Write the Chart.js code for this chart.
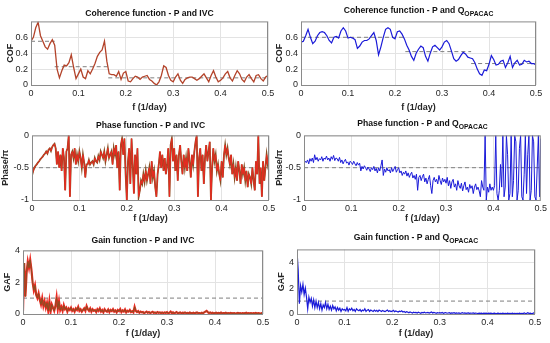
<!DOCTYPE html>
<html>
<head>
<meta charset="utf-8">
<script src="https://cdn.jsdelivr.net/npm/chart.js@4.4.0/dist/chart.umd.min.js"></script>
<style>
  body { margin: 0; background: #fff; width: 550px; height: 343px; position: relative; overflow: hidden;
         font-family: "Liberation Sans", Arial, sans-serif; }
  .panel { position: absolute; }
  .ttl { position: absolute; font-weight: bold; font-size: 8.6px; color: #111; white-space: nowrap;
         transform: translate(-50%, -50%); }
  .ttl sub { font-size: 6.8px; vertical-align: -3px; line-height: 0; }
</style>
</head>
<body>

<script>
// --- Data (f from 0 to 0.5, evenly spaced) ---
const freqTicks = [0, 0.1, 0.2, 0.3, 0.4, 0.5];
const cofTicks = [0, 0.2, 0.4, 0.6];
const phaseTicks = [-1, -0.5, 0];
const gafTicks = [0, 2, 4];

// Coherence, step 0.005
const cohIVC = [0.55,0.60,0.72,0.79,0.62,0.55,0.48,0.45,0.52,0.57,0.50,0.20,0.09,0.18,0.25,0.24,0.28,0.38,0.22,0.08,
  0.14,0.20,0.10,0.08,0.18,0.14,0.20,0.27,0.36,0.41,0.44,0.55,0.30,0.14,0.13,0.13,0.11,0.17,0.07,0.15,
  0.17,0.05,0.04,0.08,0.11,0.10,0.07,0.10,0.11,0.12,0.07,0.05,0.02,0.00,0.04,0.12,0.24,0.22,0.12,0.06,
  0.04,0.10,0.14,0.06,0.02,0.07,0.09,0.10,0.10,0.08,0.06,0.08,0.11,0.14,0.09,0.04,0.12,0.18,0.10,0.04,
  0.06,0.09,0.14,0.17,0.09,0.05,0.12,0.18,0.14,0.07,0.04,0.10,0.13,0.08,0.04,0.12,0.13,0.08,0.05,0.10,0.12];
const cohQ = [0.54,0.55,0.62,0.70,0.60,0.52,0.55,0.62,0.66,0.67,0.66,0.62,0.56,0.53,0.60,0.61,0.59,0.68,0.72,0.68,
  0.59,0.60,0.59,0.57,0.46,0.49,0.54,0.56,0.56,0.58,0.62,0.66,0.56,0.38,0.48,0.60,0.70,0.72,0.70,0.60,
  0.58,0.67,0.68,0.64,0.58,0.50,0.44,0.36,0.31,0.40,0.45,0.49,0.47,0.36,0.30,0.40,0.48,0.50,0.47,0.44,
  0.48,0.54,0.56,0.52,0.43,0.33,0.30,0.32,0.37,0.41,0.39,0.35,0.34,0.33,0.28,0.20,0.14,0.12,0.19,0.18,
  0.26,0.37,0.32,0.25,0.26,0.30,0.31,0.22,0.28,0.36,0.22,0.28,0.31,0.25,0.26,0.31,0.29,0.30,0.27,0.27,0.25];
const cohIVCBreaks = [0, 0.05, 0.163, 0.5];
const cohIVCLevels = [0.55, 0.23, 0.09];
const cohQBreaks = [0, 0.222, 0.362, 0.5];
const cohQLevels = [0.6, 0.42, 0.27];

// Phase / pi, step 0.0025
const phaseIVC = [-0.62,-0.55,-0.50,-0.47,-0.45,-0.42,-0.40,-0.37,-0.35,-0.33,-0.30,-0.28,-0.25,-0.28,-0.22,-0.20,-0.24,-0.18,-0.15,-0.13,
  -0.20,-0.45,-0.25,-0.50,-0.30,-0.55,-0.20,-0.35,-0.85,-0.25,-0.20,0.00,-0.95,-0.30,-0.25,-0.35,-0.20,-0.45,-0.30,-0.40,
  -0.25,-0.35,-0.50,-0.30,-0.42,-0.65,-0.45,-0.45,-0.38,-0.45,-0.42,-0.40,-0.45,-0.35,-0.40,-0.42,-0.32,-0.38,-0.25,-0.30,
  -0.35,-0.25,-0.40,-0.30,-0.20,-0.35,-0.30,-0.25,-0.45,-0.20,-0.30,-0.15,-0.50,-0.25,-0.85,-0.15,-0.05,-0.30,-0.05,-0.60,
  -1.00,-0.40,-0.20,-0.75,-0.05,-0.45,-0.90,-0.30,-0.60,-0.20,-0.95,-0.85,-0.70,-0.75,-0.60,-0.72,-0.55,-0.70,-0.60,-0.50,
  -0.75,-0.40,-0.65,-0.55,-0.80,-0.95,-0.60,-0.45,-0.25,-0.50,-0.30,-0.55,-0.35,-0.60,-0.45,-0.20,-0.95,-0.15,-0.05,-0.40,
  -0.20,-0.55,-0.30,-0.70,-0.30,-0.15,-0.40,-0.60,-0.30,-0.50,-0.35,-0.55,-0.20,-0.40,-0.65,-0.30,-0.45,-0.25,-0.10,0.00,
  -0.95,-0.35,-0.20,-0.55,-0.30,-0.75,-0.35,-0.15,-0.40,-0.25,-0.10,-1.00,-0.50,-0.20,-0.40,-0.30,-0.55,-0.45,-0.60,-0.70,
  -0.40,-0.65,-0.30,-0.15,-0.30,-0.20,-0.35,-0.45,-0.30,-0.60,-0.45,-0.65,-0.50,-0.70,-0.40,-0.55,-0.75,-0.45,-0.60,-0.50,
  -0.70,-0.55,-0.80,-0.60,-0.65,-0.75,-0.50,-0.70,-0.85,-0.40,-0.60,0.00,-0.75,-0.50,-0.95,-0.40,-0.70,-0.50,-0.30,-0.45,-0.35];
const phaseQ = [-0.45,-0.40,-0.42,-0.38,-0.44,-0.36,-0.40,-0.35,-0.42,-0.30,-0.38,-0.34,-0.40,-0.36,-0.38,-0.33,-0.40,-0.35,-0.37,-0.32,
  -0.38,-0.35,-0.40,-0.33,-0.37,-0.31,-0.39,-0.35,-0.36,-0.40,-0.34,-0.42,-0.38,-0.44,-0.40,-0.37,-0.43,-0.41,-0.46,-0.40,
  -0.42,-0.45,-0.40,-0.44,-0.47,-0.42,-0.46,-0.43,-0.55,-0.48,-0.52,-0.47,-0.50,-0.54,-0.49,-0.52,-0.56,-0.50,-0.53,-0.48,
  -0.55,-0.51,-0.58,-0.50,-0.55,-0.47,-0.38,-0.62,-0.52,-0.57,-0.50,-0.55,-0.53,-0.58,-0.50,-0.56,-0.52,-0.48,-0.57,-0.53,
  -0.50,-0.58,-0.55,-0.62,-0.57,-0.60,-0.55,-0.63,-0.58,-0.65,-0.60,-0.57,-0.66,-0.62,-0.68,-0.60,-0.85,-0.65,-0.62,-0.70,
  -0.64,-0.60,-0.72,-0.66,-0.75,-0.68,-0.62,-0.78,-0.90,-0.70,-0.65,-0.72,-0.68,-0.75,-0.62,-0.70,-0.76,-0.66,-0.72,-0.68,
  -0.74,-0.65,-0.78,-0.70,-0.82,-0.72,-0.68,-0.80,-0.75,-0.85,-0.70,-0.78,-0.82,-0.74,-0.86,-0.78,-0.72,-0.84,-0.80,-0.88,
  -0.76,-0.82,-0.78,-0.90,-0.80,-0.75,-0.84,-0.80,-0.86,-0.95,-0.70,-0.80,-0.85,0.00,-1.00,-0.80,-0.88,-0.75,-0.85,-0.80,
  -0.85,-0.78,0.00,-0.90,-1.00,-0.85,-0.45,-0.80,0.00,-0.95,-0.80,0.00,-0.30,-1.00,-0.90,0.00,-0.95,-0.70,0.00,-0.10,
  -1.00,-0.85,-0.20,0.00,-0.95,-1.00,-0.60,0.00,-0.90,-0.30,0.00,-1.00,-0.85,0.00,-0.10,-0.95,-1.00,-0.50,0.00,-0.95,-0.05];

// Gain, step 0.0025
const gainIVC = [0.2,3.2,1.1,2.6,3.3,2.9,3.4,2.8,2.0,1.5,1.8,1.2,1.0,1.3,0.9,0.6,1.0,0.5,0.8,0.4,
  0.7,0.2,0.8,0.15,0.6,0.4,0.2,0.5,1.05,0.3,0.8,0.25,0.45,0.2,0.55,0.3,0.4,0.15,0.35,0.25,
  0.4,0.2,0.3,0.15,0.35,0.25,0.45,0.2,0.3,0.15,0.25,0.35,0.2,0.5,0.3,0.2,0.35,0.15,0.3,0.2,
  0.25,0.12,0.3,0.2,0.35,0.15,0.25,0.1,0.3,0.2,0.15,0.28,0.12,0.25,0.18,0.3,0.15,0.22,0.1,0.25,
  0.18,0.3,0.12,0.22,0.15,0.28,0.1,0.2,0.15,0.25,0.12,0.18,0.1,0.45,0.2,0.12,0.18,0.08,0.15,0.1,
  0.12,0.05,0.1,0.15,0.08,0.12,0.06,0.1,0.14,0.07,0.1,0.05,0.12,0.08,0.1,0.06,0.09,0.05,0.1,0.07,
  0.12,0.05,0.08,0.15,0.06,0.1,0.04,0.08,0.12,0.05,0.07,0.1,0.04,0.08,0.06,0.1,0.05,0.07,0.04,0.09,
  0.06,0.05,0.08,0.04,0.07,0.1,0.05,0.06,0.04,0.08,0.05,0.1,0.15,0.2,0.12,0.06,0.1,0.05,0.08,0.04,
  0.06,0.08,0.04,0.07,0.05,0.09,0.04,0.06,0.05,0.08,0.04,0.06,0.03,0.07,0.05,0.04,0.06,0.03,0.05,0.07,
  0.04,0.05,0.03,0.06,0.04,0.05,0.08,0.03,0.05,0.04,0.06,0.03,0.05,0.04,0.07,0.03,0.05,0.04,0.03,0.05,0.04];
const gainQ = [4.9,3.4,0.8,2.2,1.7,2.3,1.5,2.0,1.3,0.4,1.3,0.9,1.2,0.6,1.1,0.5,1.0,0.5,0.9,0.4,
  0.8,0.3,0.7,0.5,0.9,0.4,0.75,0.35,0.6,0.3,0.65,0.4,0.55,0.25,0.5,0.3,0.45,0.2,0.4,0.3,
  0.35,0.25,0.5,0.2,0.4,0.3,0.45,0.25,0.35,0.2,0.4,0.3,0.25,0.35,0.2,0.3,0.25,0.4,0.2,0.3,
  0.35,0.2,0.3,0.25,0.2,0.3,0.22,0.28,0.18,0.3,0.25,0.2,0.28,0.22,0.18,0.25,0.3,0.2,0.25,0.18,
  0.22,0.28,0.18,0.24,0.2,0.15,0.22,0.18,0.25,0.15,0.2,0.12,0.18,0.15,0.1,0.16,0.12,0.08,0.14,0.1,
  0.12,0.08,0.14,0.1,0.06,0.12,0.09,0.14,0.08,0.1,0.13,0.07,0.11,0.15,0.08,0.12,0.1,0.06,0.11,0.08,
  0.1,0.07,0.12,0.06,0.09,0.11,0.06,0.08,0.1,0.05,0.09,0.07,0.1,0.05,0.08,0.06,0.09,0.05,0.07,0.1,
  0.06,0.08,0.05,0.07,0.09,0.05,0.07,0.06,0.08,0.05,0.07,0.06,0.04,0.07,0.05,0.06,0.04,0.07,0.05,0.06,
  0.04,0.06,0.05,0.07,0.04,0.05,0.06,0.04,0.05,0.07,0.04,0.05,0.03,0.06,0.04,0.05,0.04,0.06,0.03,0.05,
  0.04,0.06,0.04,0.05,0.03,0.05,0.04,0.06,0.04,0.05,0.03,0.08,0.04,0.05,0.1,0.04,0.06,0.03,0.05,0.08,0.04];

// --- helpers ---
const FONT = '"Liberation Sans", Arial, sans-serif';
const RED = '#ec2a22', BROWN = '#8a4f23', BLUE = '#1a1ad8', DASH = '#7f7f7f';

function toXY(values) {
  const step = 0.5 / (values.length - 1);
  return values.map((v, i) => ({ x: i * step, y: v }));
}

function stepLines(breaks, levels) {
  const pts = [];
  levels.forEach((lv, i) => {
    pts.push({ x: breaks[i], y: lv }, { x: breaks[i + 1], y: lv });
    if (i < levels.length - 1) pts.push({ x: breaks[i + 1], y: null });
  });
  return pts;
}

const boxPlugin = {
  id: 'axesBox',
  afterDraw(chart) {
    const { ctx, chartArea: a } = chart;
    ctx.save();
    ctx.strokeStyle = '#8a8a8a';
    ctx.lineWidth = 1;
    ctx.strokeRect(a.left + 0.5, a.top + 0.5, a.right - a.left - 1, a.bottom - a.top);
    ctx.restore();
  }
};

function lineSet(data, color, width, order) {
  return { data, borderColor: color, borderWidth: width, pointRadius: 0, tension: 0, order, spanGaps: false };
}

// plot = [left, top, right, bottom] of the axes box in page pixels
function makePanel(p) {
  const [l, t, r, b] = p.plot;
  const padTop = 6, padRight = Math.min(10, 550 - r);
  const cLeft = p.canvasLeft, cTop = t - padTop;
  const w = r + padRight - cLeft, h = b + p.xh - cTop;
  const yw = l - cLeft;

  const div = document.createElement('div');
  div.className = 'panel';
  div.style.cssText = `left:${cLeft}px;top:${cTop}px;width:${w}px;height:${h}px`;
  const cv = document.createElement('canvas');
  div.appendChild(cv);
  document.body.appendChild(div);

  const ttl = document.createElement('div');
  ttl.className = 'ttl';
  ttl.innerHTML = p.title;
  ttl.style.left = ((l + r) / 2) + 'px';
  ttl.style.top = p.titleY + 'px';
  document.body.appendChild(ttl);

  new Chart(cv, {
    type: 'line',
    data: { datasets: p.datasets },
    options: {
      responsive: true,
      maintainAspectRatio: false,
      animation: false,
      layout: { padding: { left: 0, top: padTop, right: padRight, bottom: 0 } },
      plugins: { legend: { display: false }, tooltip: { enabled: false } },
      scales: {
        x: {
          type: 'linear', min: 0, max: 0.5,
          afterBuildTicks: s => { s.ticks = freqTicks.map(v => ({ value: v })); },
          afterFit: s => { s.height = p.xh; },
          grid: { color: '#e3e3e3', drawTicks: false },
          border: { display: false },
          ticks: { padding: 3, color: '#262626', font: { family: FONT, size: 9 }, maxRotation: 0,
                   callback: v => String(v) },
          title: { display: true, text: 'f (1/day)', color: '#262626', padding: 0,
                   font: { family: FONT, size: 9, weight: 'bold' } }
        },
        y: {
          type: 'linear', min: p.ymin, max: p.ymax,
          afterBuildTicks: s => { s.ticks = p.yticks.map(v => ({ value: v })); },
          afterFit: s => { s.width = yw; },
          grid: { color: '#e3e3e3', drawTicks: false },
          border: { display: false },
          ticks: { padding: 3, color: '#262626', font: { family: FONT, size: 9 },
                   callback: v => String(v) },
          title: { display: true, text: p.ylabel, color: '#262626', padding: 0,
                   font: { family: FONT, size: 9, weight: 'bold' } }
        }
      }
    },
    plugins: [boxPlugin]
  });
}

const dashed = (pts) => ({ data: pts, borderColor: DASH, borderWidth: 1, borderDash: [4, 3],
                           pointRadius: 0, order: 3, spanGaps: false });

makePanel({
  plot: [31, 19, 268, 85], canvasLeft: 5, xh: 28, titleY: 12.5,
  title: 'Coherence function - P and IVC', ylabel: 'COF', ymin: 0, ymax: 0.8, yticks: cofTicks,
  datasets: [
    lineSet(toXY(cohIVC), '#b3432a', 1.3, 1),
    dashed(stepLines(cohIVCBreaks, cohIVCLevels))
  ]
});
makePanel({
  plot: [301, 19, 536, 85], canvasLeft: 274, xh: 28, titleY: 10,
  title: 'Coherence function - P and Q<sub>OPACAC</sub>', ylabel: 'COF', ymin: 0, ymax: 0.8, yticks: cofTicks,
  datasets: [
    lineSet(toXY(cohQ), BLUE, 1.2, 1),
    dashed(stepLines(cohQBreaks, cohQLevels))
  ]
});
makePanel({
  plot: [32, 133, 269, 200], canvasLeft: 0, xh: 24, titleY: 125,
  title: 'Phase function - P and IVC', ylabel: 'Phase/\u03c0', ymin: -1, ymax: 0, yticks: phaseTicks,
  datasets: [
    lineSet(toXY(phaseIVC), RED, 1, 1),
    lineSet(toXY(phaseIVC), BROWN, 1.8, 2),
    dashed([{ x: 0, y: -0.5 }, { x: 0.5, y: -0.5 }])
  ]
});
makePanel({
  plot: [304, 133, 541, 200], canvasLeft: 274, xh: 24, titleY: 122.5,
  title: 'Phase function - P and Q<sub>OPACAC</sub>', ylabel: 'Phase/\u03c0', ymin: -1, ymax: 0, yticks: phaseTicks,
  datasets: [
    lineSet(toXY(phaseQ), BLUE, 1, 1),
    dashed([{ x: 0, y: -0.5 }, { x: 0.5, y: -0.5 }])
  ]
});
makePanel({
  plot: [23, 248, 263, 314], canvasLeft: 2, xh: 25, titleY: 240,
  title: 'Gain function - P and IVC', ylabel: 'GAF', ymin: 0, ymax: 4, yticks: gafTicks,
  datasets: [
    lineSet(toXY(gainIVC), BROWN, 1, 1),
    lineSet(toXY(gainIVC), RED, 2.2, 2),
    dashed([{ x: 0, y: 1 }, { x: 0.5, y: 1 }])
  ]
});
makePanel({
  plot: [297, 247, 535, 314], canvasLeft: 276, xh: 25, titleY: 237,
  title: 'Gain function - P and Q<sub>OPACAC</sub>', ylabel: 'GAF', ymin: 0, ymax: 5, yticks: gafTicks,
  datasets: [
    lineSet(toXY(gainQ), BLUE, 1.2, 1),
    dashed([{ x: 0, y: 1 }, { x: 0.5, y: 1 }])
  ]
});
</script>
</body>
</html>
